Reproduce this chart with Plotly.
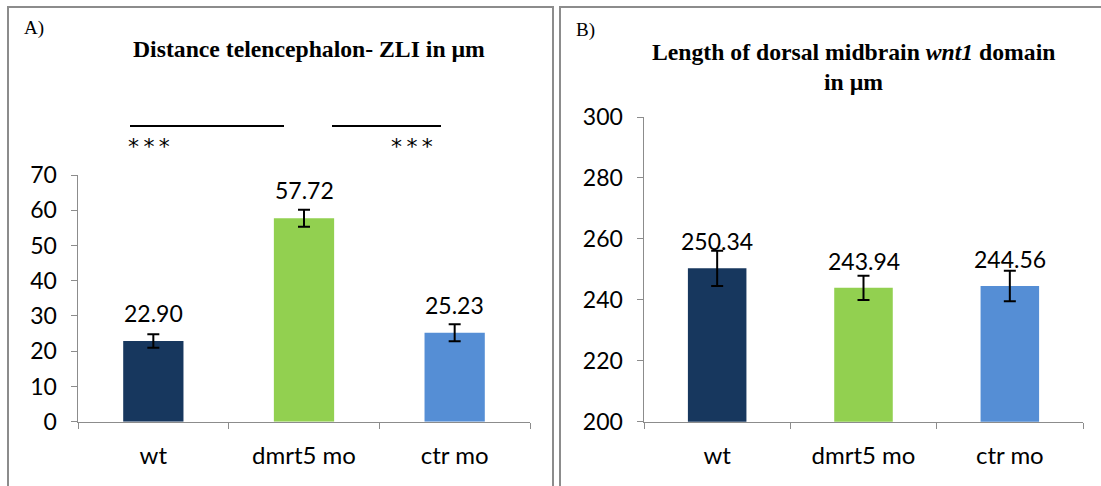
import plotly.graph_objects as go

categories = ["wt", "dmrt5 mo", "ctr mo"]
colors = ["#17375E", "#92D050", "#558ED5"]

a_values = [22.90, 57.72, 25.23]
a_errors = [1.9, 2.4, 2.4]
a_labels = ["22.90", "57.72", "25.23"]
a_ticks = [0, 10, 20, 30, 40, 50, 60, 70]

b_values = [250.34, 243.94, 244.56]
b_errors = [5.8, 4.0, 5.0]
b_labels = ["250.34", "243.94", "244.56"]
b_ticks = [200, 220, 240, 260, 280, 300]

W, H = 1101, 486
def px(x):
    return x / W
def py(y):
    return 1 - y / H

fig = go.Figure()
fig.add_trace(go.Bar(x=categories, y=a_values, marker_color=colors, marker_line_width=0,
                     error_y=dict(type="data", array=a_errors, color="black", thickness=2, width=6),
                     xaxis="x", yaxis="y", showlegend=False, hoverinfo="skip"))
fig.add_trace(go.Bar(x=categories, y=b_values, marker_color=colors, marker_line_width=0,
                     error_y=dict(type="data", array=b_errors, color="black", thickness=2, width=6),
                     xaxis="x2", yaxis="y2", showlegend=False, hoverinfo="skip"))

sans = "Lato, Open Sans, sans-serif"
num_font = dict(family=sans, size=23, color="black")
cat_font = dict(family=sans, size=24, color="black")
axis_common = dict(showline=True, linecolor="#8C8C8C", linewidth=1.5, ticks="outside",
                   tickcolor="#8C8C8C", ticklen=6, showgrid=False, zeroline=False,
                   fixedrange=True, automargin=False)

fig.update_layout(
    width=W, height=H, margin=dict(l=0, r=0, t=0, b=0, pad=0, autoexpand=False),
    paper_bgcolor="white", plot_bgcolor="white", bargap=0.6,
    xaxis=dict(domain=[px(78), px(530)], anchor="y", tickson="boundaries", tickfont=cat_font,
               ticklabelstandoff=12, **axis_common),
    yaxis=dict(domain=[py(421.7), py(175)], anchor="x", range=[0, 70], tickvals=a_ticks,
               tickfont=num_font, ticklabelstandoff=9, **axis_common),
    xaxis2=dict(domain=[px(644), px(1083)], anchor="y2", tickson="boundaries", tickfont=cat_font,
                ticklabelstandoff=12, **axis_common),
    yaxis2=dict(domain=[py(421.7), py(117)], anchor="x2", range=[200, 300], tickvals=b_ticks,
                tickfont=num_font, ticklabelstandoff=9, **axis_common),
)

annotations = []
for c, v, t in zip(categories, a_values, a_labels):
    annotations.append(dict(x=c, y=v, xref="x", yref="y", text=t, showarrow=False,
                            yanchor="middle", yshift=28, font=num_font))
for c, v, t in zip(categories, b_values, b_labels):
    annotations.append(dict(x=c, y=v, xref="x2", yref="y2", text=t, showarrow=False,
                            yanchor="middle", yshift=27, font=num_font))

serif = "Liberation Serif, Times New Roman, serif"
stars = "*\u2009*\u2009*"
annotations += [
    dict(x=px(22), y=py(28), xref="paper", yref="paper", text="A)", showarrow=False,
         xanchor="left", yanchor="middle", font=dict(family=serif, size=19, color="black")),
    dict(x=px(574), y=py(30), xref="paper", yref="paper", text="B)", showarrow=False,
         xanchor="left", yanchor="middle", font=dict(family=serif, size=19, color="black")),
    dict(x=px(309), y=py(49), xref="paper", yref="paper", text="<b>Distance telencephalon- ZLI in µm</b>",
         showarrow=False, xanchor="center", yanchor="middle", font=dict(family=serif, size=23.7, color="black")),
    dict(x=px(853), y=py(52), xref="paper", yref="paper",
         text="<b>Length of dorsal midbrain <i>wnt1</i> domain</b>",
         showarrow=False, xanchor="center", yanchor="middle", font=dict(family=serif, size=23.7, color="black")),
    dict(x=px(853), y=py(82), xref="paper", yref="paper", text="<b>in µm</b>",
         showarrow=False, xanchor="center", yanchor="middle", font=dict(family=serif, size=23.7, color="black")),
    dict(x=px(126), y=py(146), xref="paper", yref="paper", text=stars, showarrow=False,
         xanchor="left", yanchor="middle", font=dict(family="DejaVu Sans", size=22, color="black")),
    dict(x=px(389), y=py(146), xref="paper", yref="paper", text=stars, showarrow=False,
         xanchor="left", yanchor="middle", font=dict(family="DejaVu Sans", size=22, color="black")),
]
fig.update_layout(annotations=annotations)

shapes = [
    dict(type="line", xref="paper", yref="paper", x0=px(130), x1=px(284), y0=py(126), y1=py(126),
         line=dict(color="black", width=2)),
    dict(type="line", xref="paper", yref="paper", x0=px(332), x1=px(441), y0=py(126), y1=py(126),
         line=dict(color="black", width=2)),
    dict(type="rect", xref="paper", yref="paper", x0=px(8), x1=px(553), y0=-0.05, y1=py(7),
         line=dict(color="#8C8C8C", width=2)),
    dict(type="rect", xref="paper", yref="paper", x0=px(560), x1=1.05, y0=-0.05, y1=py(7),
         line=dict(color="#8C8C8C", width=2)),
]
fig.update_layout(shapes=shapes)

fig.write_html("out.html", config={"displayModeBar": False, "staticPlot": True},
               post_script="document.body.style.margin='0px';document.body.style.overflow='hidden';")
